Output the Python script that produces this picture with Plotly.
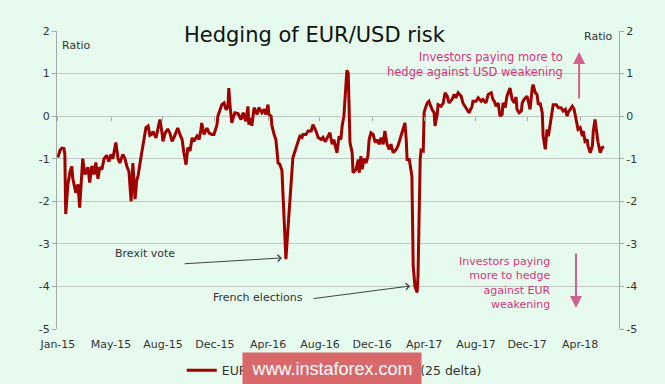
import pandas as pd
import plotly.graph_objects as go

# ---------------- data ----------------
start = pd.Timestamp("2015-01-01")

# days since 2015-01-01
days = [0, 5, 9, 14, 16, 18, 23, 28, 32, 34, 41, 46, 50, 55, 57, 62, 69, 73, 78, 83,
        87, 92, 96, 101, 106, 112, 117, 122, 126, 133, 138, 142, 149, 154, 158, 163, 168, 172, 177, 181,
        184, 190, 195, 202, 207, 211, 216, 218, 225, 230, 234, 239, 241, 246, 252, 257, 262, 266, 273, 275,
        280, 285, 289, 294, 298, 303, 308, 312, 319, 324, 328, 330, 335, 342, 347, 353, 358, 365, 367, 372,
        376, 381, 386, 390, 392, 395, 399, 402, 406, 413, 420, 425, 431, 436, 438, 443, 445, 450, 457, 461,
        468, 473, 477, 482, 484, 489, 491, 496, 500, 503, 505, 509, 514, 516, 519, 521, 523, 526, 528, 530,
        532, 537, 539, 544, 549, 551, 555, 560, 562, 569, 574, 581, 585, 592, 597, 604, 608, 613, 620, 624,
        629, 633, 640, 645, 649, 652, 656, 661, 663, 666, 668, 670, 675, 677, 684, 689, 691, 695, 698, 702,
        707, 711, 714, 718, 723, 728, 732, 737, 741, 746, 750, 755, 760, 764, 769, 776, 780, 787, 792, 796,
        799, 801, 806, 810, 812, 815, 819, 824, 826, 831, 833, 838, 840, 842, 847, 851, 858, 863, 865, 870,
        872, 879, 884, 888, 893, 897, 904, 909, 913, 918, 925, 929, 934, 939, 943, 950, 952, 959, 964, 971,
        975, 982, 987, 994, 998, 1001, 1005, 1010, 1014, 1019, 1021, 1026, 1030, 1037, 1042, 1047, 1051, 1053, 1058, 1063,
        1065, 1069, 1076, 1079, 1083, 1088, 1090, 1095, 1099, 1102, 1106, 1111, 1113, 1118, 1122, 1125, 1129, 1134, 1136, 1143,
        1148, 1154, 1159, 1164, 1168, 1170, 1175, 1180, 1184, 1189, 1193, 1198, 1203, 1205, 1209, 1214, 1216, 1221, 1226, 1228,
        1232, 1237, 1239, 1244, 1248, 1253]

ratio = [-0.97, -0.80, -0.75, -0.76, -0.90, -2.30, -1.60, -1.30, -1.18, -1.45, -1.80, -1.60, -2.15, -1.20, -1.00, -1.37, -1.20, -1.56, -1.17, -1.37,
         -1.09, -1.47, -1.20, -1.25, -1.00, -0.92, -1.07, -0.90, -1.00, -0.62, -1.00, -1.10, -0.90, -1.00, -1.17, -1.30, -2.00, -1.10, -1.95, -1.50,
         -1.40, -1.00, -0.67, -0.27, -0.23, -0.45, -0.42, -0.36, -0.51, -0.28, -0.08, -0.40, -0.59, -0.40, -0.30, -0.40, -0.59, -0.51, -0.36, -0.28,
         -0.43, -0.55, -0.86, -1.14, -0.74, -0.82, -0.51, -0.59, -0.47, -0.55, -0.32, -0.16, -0.43, -0.28, -0.40, -0.43, -0.43, -0.20, 0.00, 0.15,
         0.27, 0.31, 0.15, 0.23, 0.66, 0.23, -0.16, -0.04, 0.08, 0.06, -0.08, 0.08, -0.12, 0.23, -0.20, -0.04, -0.23, 0.20, 0.04, 0.20,
         0.08, 0.16, 0.04, 0.27, 0.04, 0.00, -0.23, -0.43, -0.55, -0.86, -1.10, -1.13, -1.28, -1.76, -2.40, -2.90, -3.36, -2.90, -2.60, -2.23,
         -1.90, -1.28, -0.98, -0.82, -0.66, -0.55, -0.47, -0.50, -0.43, -0.43, -0.35, -0.35, -0.20, -0.35, -0.50, -0.55, -0.50, -0.60, -0.47, -0.39,
         -0.66, -0.55, -0.86, -0.47, -0.55, -0.23, 0.00, 0.85, 1.08, 1.00, 0.00, -0.62, -0.86, -1.33, -1.25, -1.02, -1.33, -0.94, -1.25, -1.00,
         -1.10, -0.94, -0.55, -0.39, -0.43, -0.62, -0.55, -0.66, -0.51, -0.66, -0.35, -0.66, -0.78, -0.66, -0.86, -0.78, -0.70, -0.47, -0.35, -0.16,
         -0.55, -1.02, -1.02, -1.25, -1.41, -3.52, -4.00, -4.14, -3.75, -1.02, -0.80, -0.82, 0.08, 0.16, 0.31, 0.35, 0.16, 0.08, -0.23, 0.04,
         0.27, 0.23, 0.31, 0.55, 0.47, 0.31, 0.39, 0.51, 0.43, 0.55, 0.47, 0.31, 0.23, 0.12, 0.08, 0.23, 0.35, 0.35, 0.43, 0.35,
         0.39, 0.31, 0.51, 0.55, 0.39, 0.35, 0.23, 0.31, 0.00, 0.04, 0.31, 0.20, 0.47, 0.66, 0.39, 0.31, 0.45, 0.16, 0.08, 0.12,
         0.31, 0.39, 0.47, 0.35, 0.16, 0.66, 0.74, 0.55, 0.51, 0.27, 0.31, 0.08, -0.47, -0.78, -0.31, -0.47, -0.23, 0.08, 0.27, 0.27,
         0.20, 0.20, 0.12, 0.16, 0.00, 0.08, 0.16, 0.23, 0.16, -0.12, -0.31, -0.27, -0.47, -0.35, -0.59, -0.55, -0.70, -0.86, -0.70, -0.35,
         -0.08, -0.47, -0.62, -0.86, -0.74, -0.72]

tick_days = [0, 122, 241, 360, 482, 601, 721, 840, 959, 1076, 1198]
tick_labels = ["Jan-15", "May-15", "Aug-15", "Dec-15", "Apr-16", "Aug-16",
               "Dec-16", "Apr-17", "Aug-17", "Dec-17", "Apr-18"]
y_ticks = [2, 1, 0, -1, -2, -3, -4, -5]
y_tick_labels = ["2", "1", "0", "-1", "-2", "-3", "-4", "-5"]
series_name = "EUR/USD 1-month risk reversal (25 delta)"

# ---------------- figure ----------------
def d(n):
    return start + pd.Timedelta(days=n)

dates = start + pd.to_timedelta(days, unit="D")
tickvals = list(start + pd.to_timedelta(tick_days, unit="D"))
x_range = [d(-2), d(1287)]

BG = "#e6faed"
GRID = "#bfc8c2"
AXIS = "#a3aba6"
PINK = "#d6357c"
ARROW_PINK = "#d2618f"
TXT = "#333333"
FONT = "DejaVu Sans"

fig = go.Figure()
fig.add_trace(go.Scatter(x=dates, y=ratio, mode="lines", name=series_name,
                         line=dict(color="#a00000", width=3), hoverinfo="x+y"))
# helper trace so the mirrored axes are drawn
fig.add_trace(go.Scatter(x=dates, y=ratio, mode="lines", xaxis="x2", yaxis="y2",
                         line=dict(color="rgba(0,0,0,0)", width=1), showlegend=False,
                         hoverinfo="skip"))

fig.update_layout(
    width=665, height=384,
    margin=dict(l=57, r=46, t=31, b=55, autoexpand=False),
    paper_bgcolor=BG, plot_bgcolor=BG,
    font=dict(family=FONT, color=TXT, size=11),
    xaxis=dict(range=x_range, tickmode="array", tickvals=tickvals, ticktext=tick_labels,
               showgrid=False, zeroline=False, showline=False, automargin=False,
               ticks="outside", ticklen=5, tickcolor="rgba(0,0,0,0)",
               tickfont=dict(size=11, color=TXT)),
    xaxis2=dict(range=x_range, overlaying="x", anchor="free", position=5 / 7,
                tickmode="array", tickvals=tickvals, showticklabels=False,
                showgrid=False, zeroline=False, showline=False, automargin=False,
                ticks="outside", ticklen=4, tickcolor=AXIS),
    yaxis=dict(range=[-5, 2], tickmode="array", tickvals=y_ticks, ticktext=y_tick_labels,
               showgrid=True, gridcolor=GRID, gridwidth=1, zeroline=False,
               showline=True, linecolor=AXIS, linewidth=1, automargin=False,
               ticks="outside", ticklen=4, tickcolor=AXIS,
               tickfont=dict(size=11, color=TXT)),
    yaxis2=dict(range=[-5, 2], overlaying="y", side="right", anchor="x2",
                tickmode="array", tickvals=y_ticks, ticktext=y_tick_labels,
                showgrid=False, zeroline=False, automargin=False,
                showline=True, linecolor=AXIS, linewidth=1,
                ticks="outside", ticklen=4, tickcolor=AXIS,
                tickfont=dict(size=11, color=TXT)),
    showlegend=True,
    legend=dict(orientation="h", x=0.222, y=-0.14, xanchor="left", yanchor="middle",
                bgcolor="rgba(0,0,0,0)", font=dict(size=12.5, color=TXT)),
)

# title
fig.add_annotation(text="Hedging of EUR/USD risk", xref="paper", yref="paper",
                   x=(315 - 57) / 562, y=(329 - 35) / 298,
                   xanchor="center", yanchor="middle", showarrow=False,
                   font=dict(family=FONT, size=21, color="#111111"))

# text annotations
fig.add_annotation(text="Ratio", xref="paper", yref="paper", x=0.006, y=0.953,
                   xanchor="left", yanchor="middle", showarrow=False,
                   font=dict(size=11, color=TXT))
fig.add_annotation(text="Ratio", xref="paper", yref="paper", x=0.993, y=0.983,
                   xanchor="right", yanchor="middle", showarrow=False,
                   font=dict(size=11, color=TXT))
fig.add_annotation(text="Investors paying more to<br>hedge against USD weakening",
                   xref="paper", yref="paper", x=0.904, y=0.886,
                   xanchor="right", yanchor="middle", align="right", showarrow=False,
                   font=dict(size=11.5, color=PINK))
fig.add_annotation(text="Investors paying<br>more to hedge<br>against EUR<br>weakening",
                   xref="paper", yref="paper", x=0.8826, y=0.156,
                   xanchor="right", yanchor="middle", align="right", showarrow=False,
                   font=dict(size=11, color=PINK))
# pink arrows
fig.add_annotation(text="", xref="paper", yref="paper", x=0.929, y=0.9295,
                   ax=0, ay=48, showarrow=True, arrowhead=2, arrowsize=1.2,
                   arrowwidth=2, arrowcolor=ARROW_PINK)
fig.add_annotation(text="", xref="paper", yref="paper", x=0.9235, y=0.0705,
                   ax=0, ay=-56, showarrow=True, arrowhead=2, arrowsize=1.2,
                   arrowwidth=2, arrowcolor=ARROW_PINK)

# event labels
fig.add_annotation(text="Brexit vote", x=d(200), y=-3.22, showarrow=False,
                   font=dict(size=11, color=TXT))
fig.add_annotation(text="", x=d(514), y=-3.33, ax=d(287), ay=-3.47,
                   axref="x", ayref="y", showarrow=True, arrowhead=4,
                   arrowsize=1.3, arrowwidth=1, arrowcolor="#444444")
fig.add_annotation(text="French elections", x=d(459), y=-4.25, showarrow=False,
                   font=dict(size=11, color=TXT))
fig.add_annotation(text="", x=d(808), y=-3.99, ax=d(583), ay=-4.29,
                   axref="x", ayref="y", showarrow=True, arrowhead=4,
                   arrowsize=1.3, arrowwidth=1, arrowcolor="#444444")

# watermark box
fig.add_annotation(text="www.instaforex.com", xref="paper", yref="paper",
                   x=(332 - 57) / 562, y=(329 - 369) / 298,
                   xanchor="center", yanchor="middle", showarrow=False,
                   bgcolor="#d9686a", borderpad=6, width=166, height=20,
                   font=dict(family="Liberation Sans", size=18, color="white"))

fig.write_html("out.html", config={"displayModeBar": False},
               post_script="document.body.style.margin='0';document.body.style.padding='0';")
